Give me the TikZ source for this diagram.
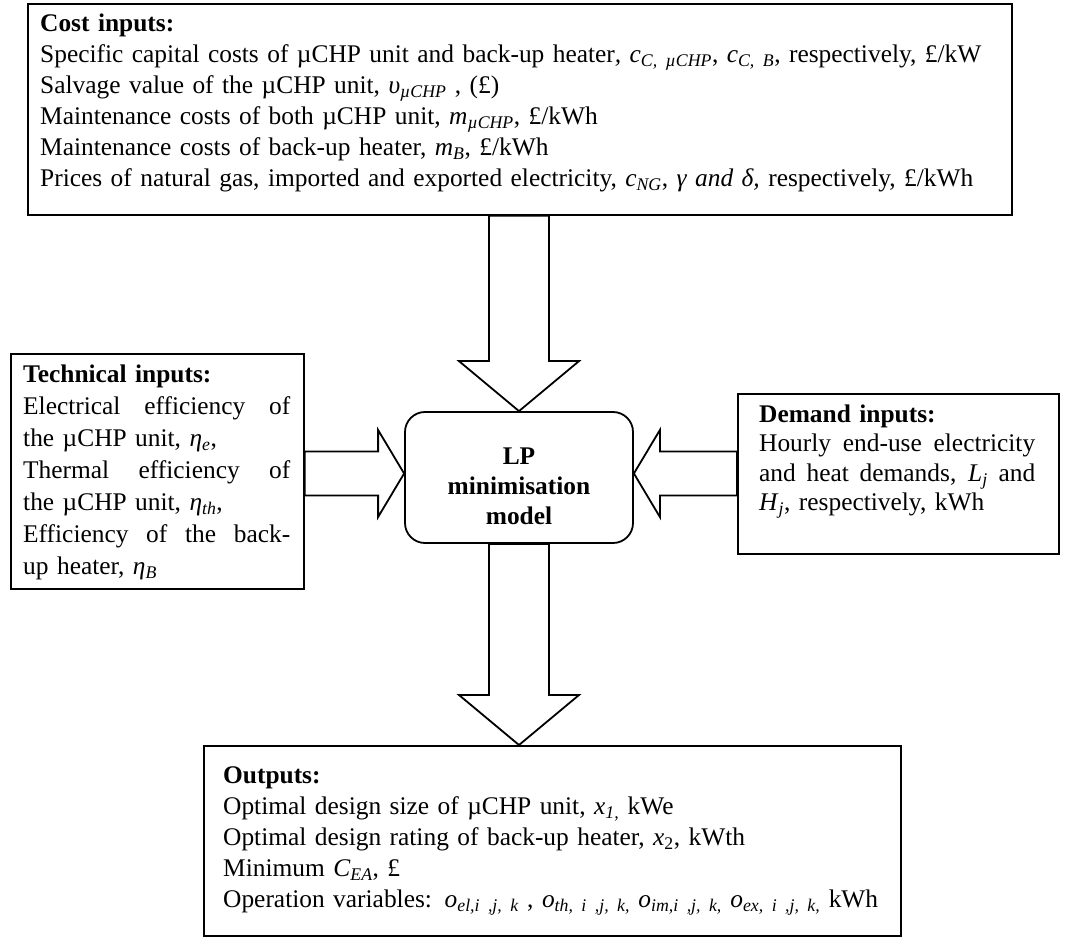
\documentclass[tikz,border=0pt]{standalone}
\usepackage{fontspec}
\setmainfont{Liberation Serif}
\usetikzlibrary{calc}
\newcommand{\isub}[1]{\textsubscript{\itshape #1}}
\newcommand{\jline}[2]{\makebox[#1][s]{\spaceskip=0pt\relax #2}}
\begin{document}
\begin{tikzpicture}[x=1pt,y=1pt]
\tikzset{
  frame/.style={draw=black, line width=1.8pt, rectangle, inner sep=0pt, anchor=north west},
  txt/.style={anchor=north west, inner sep=0pt, align=left, font=\fontsize{25.4}{31}\selectfont},
  barrow/.style={draw=black, line width=1.8pt, fill=white, line join=miter},
}
\useasboundingbox (0,0) rectangle (1068,938);
\fill[white] (0,0) rectangle (1068,938);

% boxes
\node[frame, minimum width=984pt, minimum height=211pt] (cost) at (27,935) {};
\node[frame, minimum width=293pt, minimum height=235pt] (tech) at (10,585) {};
\node[frame, minimum width=321pt, minimum height=160pt] (dem) at (737,545) {};
\node[frame, minimum width=697pt, minimum height=190pt] (out) at (203,193) {};
\node[draw=black, line width=1.8pt, rounded corners=20pt, minimum width=228pt, minimum height=131pt,
      inner sep=0pt, align=center, font=\fontsize{25.4}{30}\selectfont\bfseries] (lp) at (519,460.5)
      {\rule{0pt}{35pt}LP\\minimisation\\model};

% texts
\node[txt, text width=965pt] (costtxt) at (40,924.5) {\textbf{Cost inputs:}\\
Specific capital costs of µCHP unit and back-up heater\textit{,} \textit{c}\isub{C, µCHP}, \textit{c}\isub{C, B}, respectively, £/kW\\
Salvage value of the µCHP unit, \textit{υ}\isub{µCHP} , (£)\\
Maintenance costs of both µCHP unit, \textit{m}\isub{µCHP}, £/kWh\\
Maintenance costs of back-up heater, \textit{m}\isub{B}, £/kWh\\
Prices of natural gas, imported and exported electricity, \textit{c}\isub{NG}, \textit{γ and δ,} respectively, £/kWh};

\node[txt, text width=267pt, font=\fontsize{25.4}{32}\selectfont] (techtxt) at (23,573.5) {\textbf{Technical inputs:}\\
\jline{267pt}{Electrical efficiency of}\\
the µCHP unit, \textit{η}\isub{e},\\
\jline{267pt}{Thermal efficiency of}\\
the µCHP unit, \textit{η}\isub{th},\\
\jline{267pt}{Efficiency of the back-}\\
up heater, \textit{η}\isub{B}};

\node[txt, text width=276pt, font=\fontsize{25.4}{29.5}\selectfont] (demtxt) at (759,533.5) {\textbf{Demand inputs:}\\
\jline{276pt}{Hourly end-use electricity}\\
\jline{276pt}{and heat demands, \textit{L}\isub{j} and}\\
\textit{H}\isub{j}, respectively, kWh};

\node[txt, text width=670pt] (outtxt) at (223,171.5) {\textbf{Outputs:}\\
Optimal design size of µCHP unit, \textit{x}\isub{1,} kWe\\
Optimal design rating of back-up heater, \textit{x}\textsubscript{2}, kWth\\
Minimum \textit{C}\isub{EA}, £\\
Operation variables: \textit{o}\isub{el,i ,j, k} , \textit{o}\isub{th, i ,j, k,} \textit{o}\isub{im,i ,j, k,} \textit{o}\isub{ex, i ,j, k,} kWh};

% block arrows
\coordinate (t1) at ($(lp.north)+(-30,0)$);
\coordinate (t2) at ($(lp.north)+(30,0)$);
\draw[barrow] (lp.north) -- ++(-60,50) -- ++(30,0) -- (t1 |- cost.south) -- (t2 |- cost.south)
  -- ($(lp.north)+(30,50)$) -- ++(30,0) -- cycle;

\coordinate (bt) at (lp.south |- out.north);
\draw[barrow] (bt) -- ++(-60,50) -- ++(30,0) -- ($(lp.south)+(-30,0)$) -- ($(lp.south)+(30,0)$)
  -- ($(bt)+(30,50)$) -- ++(30,0) -- cycle;

\coordinate (lt) at ($(lp.west)+(0,4)$);
\coordinate (l1) at ($(lt)+(0,22)$);
\coordinate (l2) at ($(lt)+(0,-22)$);
\draw[barrow] (lt) -- ++(-26,43.5) -- ++(0,-21.5) -- (l1 -| tech.east) -- (l2 -| tech.east)
  -- ($(lt)+(-26,-22)$) -- ++(0,-21.5) -- cycle;

\coordinate (rt) at ($(lp.east)+(0,4)$);
\coordinate (r1) at ($(rt)+(0,22)$);
\coordinate (r2) at ($(rt)+(0,-22)$);
\draw[barrow] (rt) -- ++(26,43.5) -- ++(0,-21.5) -- (r1 -| dem.west) -- (r2 -| dem.west)
  -- ($(rt)+(26,-22)$) -- ++(0,-21.5) -- cycle;
\end{tikzpicture}
\end{document}
